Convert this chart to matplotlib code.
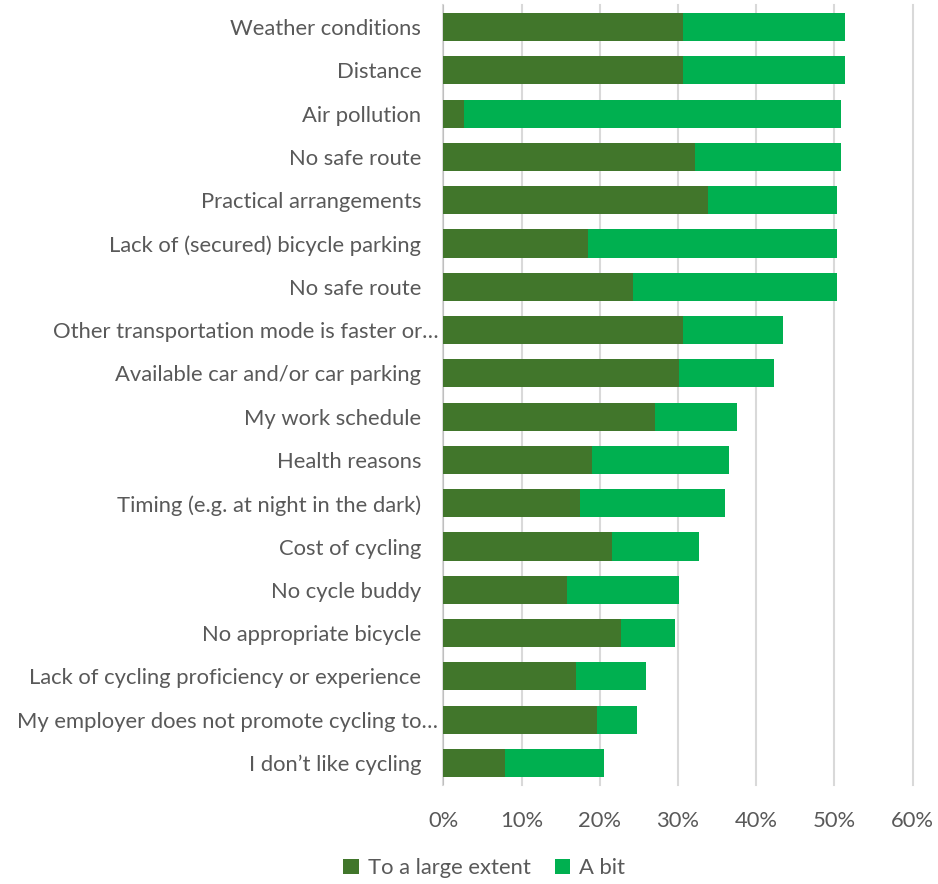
import matplotlib.pyplot as plt
from matplotlib import transforms

plt.rcParams["font.family"] = ["Lato", "DejaVu Sans"]

categories = [
    "Weather conditions",
    "Distance",
    "Air pollution",
    "No safe route",
    "Practical arrangements",
    "Lack of (secured) bicycle parking",
    "No safe route",
    "Other transportation mode is faster or…",
    "Available car and/or car parking",
    "My work schedule",
    "Health reasons",
    "Timing (e.g. at night in the dark)",
    "Cost of cycling",
    "No cycle buddy",
    "No appropriate bicycle",
    "Lack of cycling proficiency or experience",
    "My employer does not promote cycling to…",
    "I don’t like cycling",
]
large_extent = [30.6, 30.6, 2.7, 32.2, 33.9, 18.5, 24.3, 30.6, 30.1, 27.0,
                19.0, 17.5, 21.6, 15.8, 22.7, 16.9, 19.6, 7.9]
total = [51.4, 51.4, 50.8, 50.8, 50.3, 50.3, 50.3, 43.4, 42.3, 37.6,
         36.5, 36.0, 32.7, 30.1, 29.6, 25.9, 24.8, 20.6]
a_bit = [t - l for t, l in zip(total, large_extent)]

dark = "#41762B"
light = "#00B050"
text_col = "#595959"
fs = 15.8

fig = plt.figure(figsize=(9.38, 8.84), dpi=100)
ax = fig.add_axes([0.4726, 0.1124, 0.5004, 0.8814])

y = list(range(len(categories)))
ax.barh(y, large_extent, height=0.65, color=dark, label="To a large extent", zorder=3)
ax.barh(y, a_bit, left=large_extent, height=0.65, color=light, label="A bit", zorder=3)

ax.set_ylim(len(categories) - 0.5, -0.5)
ax.set_xlim(0, 60)
ax.set_xticks(range(0, 61, 10))
ax.set_xticklabels([f"{v}%" for v in range(0, 61, 10)], fontsize=fs, color=text_col)
ax.tick_params(axis="x", length=0, pad=19)
ax.set_yticks([])
for s in ax.spines.values():
    s.set_visible(False)
ax.grid(axis="x", color="#D9D9D9", linewidth=1.5, zorder=0)
for gl in ax.get_xgridlines():
    gl.set_clip_on(False)
ax.axvline(0, color="#BFBFBF", linewidth=1.5, zorder=2)

# category labels, the shortened ones sit a little closer to the axis
for i, name in enumerate(categories):
    off = -5 if name.endswith("…") else -22
    tr = transforms.offset_copy(ax.get_yaxis_transform(), fig=fig, x=off, y=-2, units="dots")
    ax.text(0, i, name, transform=tr, ha="right", va="center",
            fontsize=fs, color=text_col)

fig.legend(loc="center", bbox_to_anchor=(0.516, 16 / 884), ncol=2, frameon=False,
           fontsize=fs, labelcolor=text_col, handlelength=0.7, handleheight=0.7,
           handletextpad=0.4, columnspacing=1.1)

fig.savefig("out.png", dpi=100)
